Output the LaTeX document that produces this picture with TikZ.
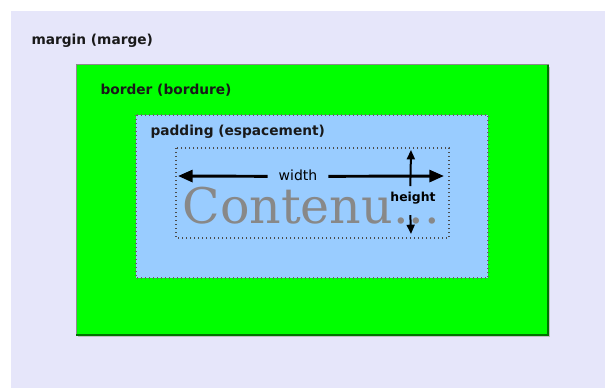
\documentclass[tikz,border=0pt]{standalone}
\usepackage{fontspec}
\setmainfont{DejaVu Sans}
\newfontfamily\contentfont{DejaVu Serif}
\usetikzlibrary{arrows.meta}

\definecolor{margincol}{HTML}{E6E6FA}
\definecolor{bordercol}{HTML}{00FF00}
\definecolor{paddingcol}{HTML}{99CCFF}
\definecolor{contentcol}{HTML}{888888}

\tikzset{every picture/.style={line width=0.75pt}}
\tikzset{
  boxlabel/.style={anchor=base west,inner sep=0pt,text=black!90,font=\bfseries\fontsize{10.3}{12}\selectfont},
  dimarrow/.style={line width=2.2pt,-{Triangle[length=11pt,width=9pt]}},
  htarrow/.style={line width=1.5pt,-{Triangle[length=7pt,width=6pt]}}
}

\begin{document}
\begin{tikzpicture}[x=0.75pt,y=0.75pt,yscale=-1,xscale=1]
\useasboundingbox (0,0) rectangle (605,388);

%Shape: Rectangle margin
\fill[margincol] (11,11) rectangle (605,388);
%Shape: Rectangle border (shadow + box)
\fill[black!25] (78,67) rectangle (550,337);
\draw[fill=bordercol,draw=black!45] (76,65) rectangle (548,335);
\draw[line width=1pt,green!45!black] (76,335) -- (548,335) -- (548,65);
%Shape: Rectangle padding
\draw[fill=paddingcol,draw=black!60,dotted,line width=1pt] (136,115) rectangle (488,278);
%Shape: Rectangle content
\draw[draw=black!70,dotted,line width=1pt] (176,148) rectangle (449,238);

% Text Node
\node[boxlabel] (marginlabel) at (31,45) {margin (marge)};
\node[boxlabel] (borderlabel) at (100,95) {border (bordure)};
\node[boxlabel] (paddinglabel) at (150,136) {padding (espacement)};

% Contenu
\node[anchor=base west,inner sep=0pt,text=contentcol,font=\contentfont\fontsize{36.8}{42}\selectfont] (content) at (182,223) {Contenu...};

% width
\node[inner sep=0pt,font=\fontsize{10.5}{12}\selectfont] (widthlabel) at (298,175) {width};
\coordinate (wleft) at (178,176);
\coordinate (wright) at (444,176);
\draw[dimarrow] ([xshift=-8pt,yshift=1pt]widthlabel.west) -- (wleft);
\draw[dimarrow] ([xshift=8pt,yshift=1pt]widthlabel.east) -- (wright);

% height
\node[inner sep=0pt,font=\bfseries\fontsize{9.3}{11}\selectfont] (heightlabel) at (413,198) {height};
\coordinate (htop) at (411,150);
\coordinate (hbot) at (411,234);
\draw[htarrow] ([xshift=-2pt,yshift=-4pt]heightlabel.north) -- (htop);
\draw[htarrow] ([xshift=-2pt,yshift=8pt]heightlabel.south) -- (hbot);

\end{tikzpicture}
\end{document}
